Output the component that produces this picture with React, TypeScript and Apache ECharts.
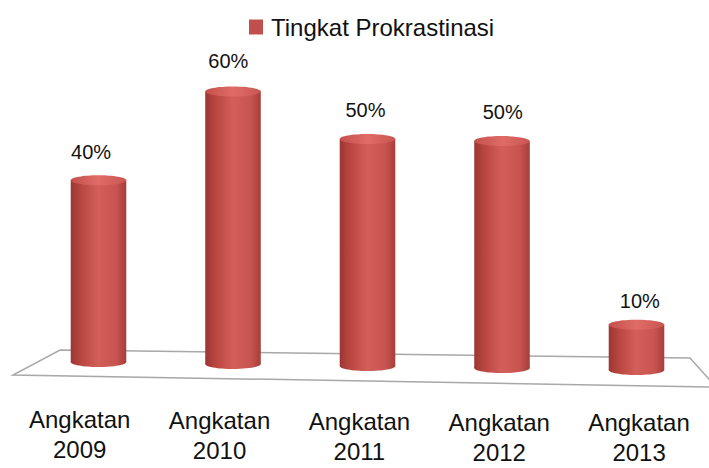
import React, { useEffect, useRef } from "react";
import * as echarts from "echarts";

const categories = ["Angkatan\n2009", "Angkatan\n2010", "Angkatan\n2011", "Angkatan\n2012", "Angkatan\n2013"];
const values = [40, 60, 50, 50, 10];
const seriesName = "Tingkat Prokrastinasi";
const labelDrop = [0, 1, 2, 3, 3];

const FONT = "'Liberation Sans', Arial, sans-serif";

export default function App() {
  const ref = useRef<HTMLDivElement>(null);
  useEffect(() => {
    if (!ref.current) return;
    const chart = echarts.init(ref.current, null, { renderer: "svg" });
    const option: any = {
      animation: false,
      backgroundColor: "#ffffff",
      legend: {
        show: true,
        left: 249,
        top: 15,
        padding: 0,
        icon: "rect",
        itemWidth: 14,
        itemHeight: 15,
        textStyle: { fontFamily: FONT, fontSize: 24, color: "#111", padding: [0, 0, 0, 3] },
        data: [seriesName],
      },
      grid: [
        { left: 31.25, width: 672.5, top: 93.6, height: 272.4 },
        { left: 9.75, width: 707.5, top: 399, height: 1 },
      ],
      xAxis: [
        { type: "category", gridIndex: 0, data: categories, show: false },
        {
          type: "category",
          gridIndex: 1,
          data: categories.map((c, i) => ({ value: c, textStyle: { padding: [labelDrop[i], 0, 0, 0] } })),
          axisLine: { show: false },
          axisTick: { show: false },
          axisLabel: {
            interval: 0,
            margin: 4,
            fontFamily: FONT,
            fontSize: 24,
            lineHeight: 30,
            color: "#111",
          },
        },
      ],
      yAxis: [
        { type: "value", gridIndex: 0, min: 0, max: 60, show: false },
        { type: "value", gridIndex: 1, show: false },
      ],
      graphic: [
        {
          type: "polygon",
          z: 0,
          silent: true,
          shape: { points: [[60, 350], [690, 358], [716, 387], [13, 375]] },
          style: { fill: "#ffffff", stroke: "#a8a8a8", lineWidth: 1.5 },
        },
      ],
      series: [
        {
          name: seriesName,
          type: "custom",
          z: 5,
          xAxisIndex: 0,
          yAxisIndex: 0,
          itemStyle: { color: "#C0504D" },
          data: values.map((v, i) => [i, v]),
          encode: { x: 0, y: 1 },
          renderItem: (params: any, api: any) => {
            const i = api.value(0);
            const v = api.value(1);
            const base = api.coord([i, 0]);
            const top = api.coord([i, v]);
            const band = api.size([1, 0])[0];
            const w = band * 0.413;
            const cs = params.coordSys;
            const midX = cs.x + cs.width / 2;
            const cx = base[0];
            const dy = (cx - midX) * 0.015;
            const y0 = base[1] + dy;
            const y1 = top[1] + dy;
            const ry = 5;
            const bodyFill = new echarts.graphic.LinearGradient(0, 0, 1, 0, [
              { offset: 0, color: "#9c3633" },
              { offset: 0.18, color: "#b8463f" },
              { offset: 0.5, color: "#d35f5a" },
              { offset: 0.82, color: "#c75450" },
              { offset: 1, color: "#a63e3a" },
            ]);
            const topFill = new echarts.graphic.LinearGradient(0, 0, 1, 0, [
              { offset: 0, color: "#c4504c" },
              { offset: 0.5, color: "#e06c67" },
              { offset: 1, color: "#c95652" },
            ]);
            const lx = cx + (cx - midX) * 0.02 - 2;
            const gap = 17 + v * 0.15;
            return {
              type: "group",
              children: [
                { type: "ellipse", shape: { cx, cy: y0, rx: w / 2, ry }, style: { fill: bodyFill } },
                { type: "rect", shape: { x: cx - w / 2, y: y1, width: w, height: y0 - y1 }, style: { fill: bodyFill } },
                { type: "ellipse", shape: { cx, cy: y1, rx: w / 2, ry }, style: { fill: topFill } },
                {
                  type: "text",
                  style: {
                    text: v + "%",
                    x: lx,
                    y: y1 - ry - gap,
                    fill: "#111",
                    fontFamily: FONT,
                    fontSize: 20,
                    align: "center",
                    verticalAlign: "middle",
                    textAlign: "center",
                    textVerticalAlign: "middle",
                  },
                },
              ],
            };
          },
        },
      ],
    };
    chart.setOption(option);
    return () => chart.dispose();
  }, []);
  return <div ref={ref} style={{ position: "fixed", left: 0, top: 0, width: 709, height: 468 }} />;
}
